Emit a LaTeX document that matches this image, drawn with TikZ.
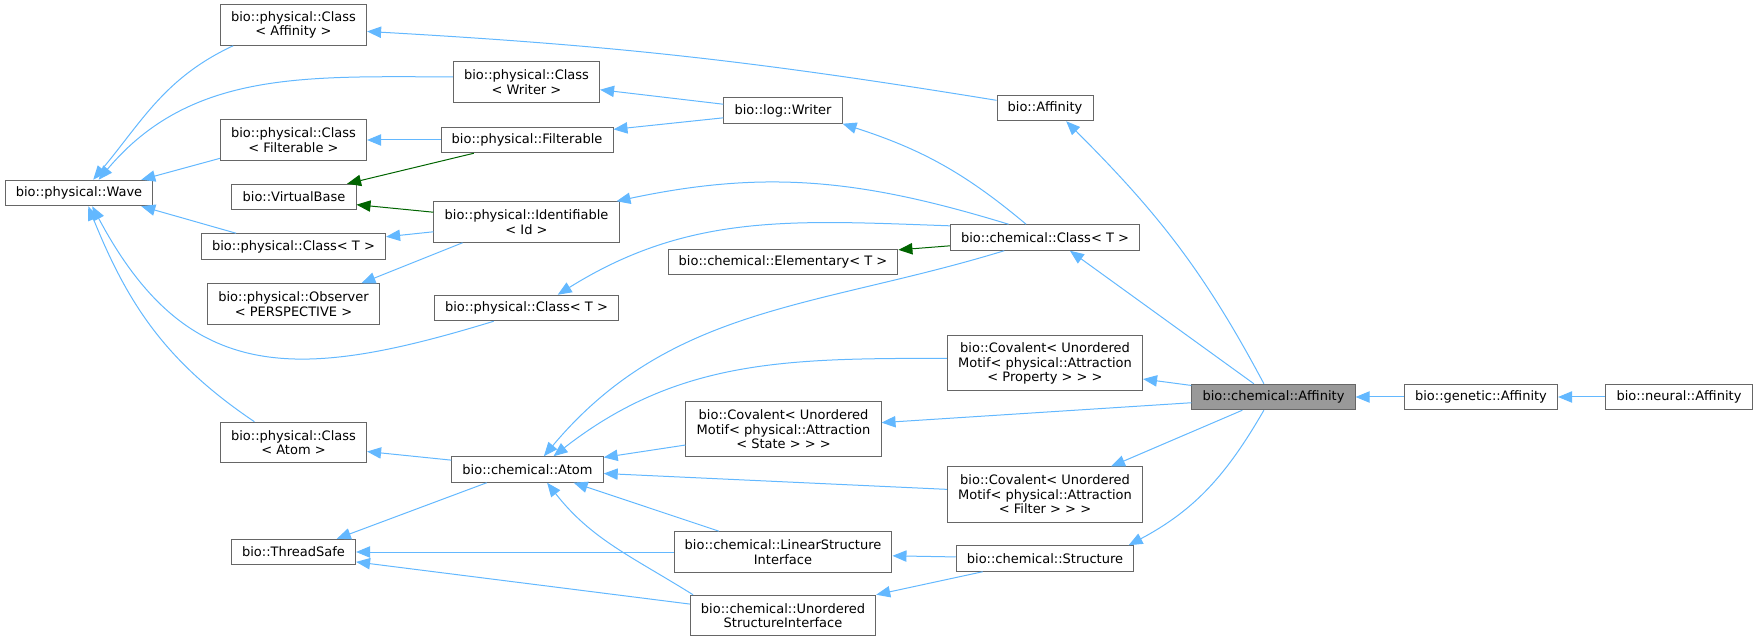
\documentclass[tikz,border=0pt]{standalone}
\usepackage{fontspec}
\setmainfont{DejaVu Sans}
\usepackage{tikz}
\usetikzlibrary{arrows.meta}
\definecolor{edgeblue}{HTML}{63B8FF}
\definecolor{edgegreen}{HTML}{006400}
\definecolor{boxgray}{HTML}{666666}
\definecolor{hlgray}{HTML}{999999}
\newcommand{\dxfont}{\fontsize{9.75pt}{10.9pt}\selectfont}
\tikzstyle{one} = [draw=boxgray, fill=white, line width=0.75pt, inner xsep=8pt, inner ysep=2pt, minimum height=19.1pt, align=center, font=\dxfont]
\tikzstyle{two} = [one, minimum height=30.4pt]
\tikzstyle{three} = [one, minimum height=41.25pt]
\tikzstyle{arrow} = [line width=0.75pt, color=edgeblue, <-, >={Triangle[length=10.5pt,width=8.5pt]}]
\tikzstyle{varrow} = [arrow, color=edgegreen]

\begin{document}
\begin{tikzpicture}[x=0.75pt, y=0.75pt]
    \useasboundingbox (0,0) rectangle (1757,-641);
    % Nodes
    \node[two] (ClsAffinity) at (293.5,-25) {bio::physical::Class\\< Affinity >};
    \node[two] (ClsWriter) at (526.5,-82) {bio::physical::Class\\< Writer >};
    \node[two] (ClsFilterable) at (293.5,-140) {bio::physical::Class\\< Filterable >};
    \node[one] (Filterable) at (527,-140) {bio::physical::Filterable};
    \node[one] (LogWriter) at (783,-110.5) {bio::log::Writer};
    \node[one] (Affinity) at (1045,-108) {bio::Affinity};
    \node[one] (Wave) at (79,-193) {bio::physical::Wave};
    \node[one] (VirtualBase) at (294,-197) {bio::VirtualBase};
    \node[two] (Identifiable) at (526.5,-222) {bio::physical::Identifiable\\< Id >};
    \node[one] (PhysClsT) at (293.5,-246.5) {bio::physical::Class< T >};
    \node[one] (ChemClsT) at (1045,-237.5) {bio::chemical::Class< T >};
    \node[one] (Elementary) at (783,-262) {bio::chemical::Elementary< T >};
    \node[two] (Observer) at (293.5,-304) {bio::physical::Observer\\< PERSPECTIVE >};
    \node[one] (PhysClsTb) at (526.5,-308) {bio::physical::Class< T >};
    \node[three] (CovProperty) at (1045,-363.5) {bio::Covalent< Unordered\\Motif< physical::Attraction\\< Property > > >};
    \node[one, fill=hlgray] (ChemAffinity) at (1273.5,-397) {bio::chemical::Affinity};
    \node[one] (GeneticAffinity) at (1481,-397) {bio::genetic::Affinity};
    \node[one] (NeuralAffinity) at (1679,-397) {bio::neural::Affinity};
    \node[three] (CovState) at (783.5,-429.5) {bio::Covalent< Unordered\\Motif< physical::Attraction\\< State > > >};
    \node[two] (ClsAtom) at (293.5,-442.5) {bio::physical::Class\\< Atom >};
    \node[one] (Atom) at (527.5,-469.5) {bio::chemical::Atom};
    \node[three] (CovFilter) at (1045,-494.5) {bio::Covalent< Unordered\\Motif< physical::Attraction\\< Filter > > >};
    \node[one] (ThreadSafe) at (293.5,-552) {bio::ThreadSafe};
    \node[two] (LinearSI) at (783,-552) {bio::chemical::LinearStructure\\Interface};
    \node[one] (Structure) at (1045,-558.5) {bio::chemical::Structure};
    \node[two] (UnorderedSI) at (783,-615.5) {bio::chemical::Unordered\\StructureInterface};

    % Edges
    \draw[arrow] (Wave.43) to[out=50,in=205] (ClsAffinity.199);
    \draw[arrow] (Wave.34) to[out=50,in=180] (ClsWriter.176);
    \draw[arrow] (Wave.12) -- (ClsFilterable.194);
    \draw[arrow] (Wave.-12) -- (PhysClsT.167);
    \draw[arrow] (Wave.-45) to[out=-62,in=197,looseness=1.25] (PhysClsTb.202);
    \draw[arrow] (Wave.-55) to[out=-68,in=146] (ClsAtom.152);
    \draw[arrow] (ClsAffinity.-5) to[bend left=3] (Affinity.171);
    \draw[arrow] (ClsWriter.-6) -- (LogWriter.174);
    \draw[arrow] (ClsFilterable) -- (Filterable);
    \draw[arrow] (Filterable.7) -- (LogWriter.187);
    \draw[varrow] (VirtualBase.14) -- (Filterable.194);
    \draw[varrow] (VirtualBase.-7) -- (Identifiable.174);
    \draw[arrow] (PhysClsT.6) -- (Identifiable.186);
    \draw[arrow] (Observer.17) -- (Identifiable.198);
    \draw[arrow] (LogWriter.south east) to[out=-18,in=140] (ChemClsT.145);
    \draw[arrow] (Identifiable.13) to[out=12,in=163] (ChemClsT.160);
    \draw[varrow] (Elementary.6) -- (ChemClsT.185);
    \draw[arrow] (PhysClsTb.23) to[out=32,in=178] (ChemClsT.173);
    \draw[arrow] (Affinity.-32) to[out=-45,in=118] (ChemAffinity.126);
    \draw[arrow] (ChemClsT.-28) -- (ChemAffinity.146);
    \draw[arrow] (CovProperty.-9) -- (ChemAffinity.172);
    \draw[arrow] (CovState.4) -- (ChemAffinity.184);
    \draw[arrow] (CovFilter.23) -- (ChemAffinity.203);
    \draw[arrow] (Structure.9) to[out=28,in=240] (ChemAffinity.234);
    \draw[arrow] (ChemAffinity) -- (GeneticAffinity);
    \draw[arrow] (GeneticAffinity) -- (NeuralAffinity);
    \draw[arrow] (ClsAtom.-7) -- (Atom.173);
    \draw[arrow] (ThreadSafe.17) -- (Atom.198);
    \draw[arrow] (Atom.27) to[out=38,in=180] (CovProperty.177);
    \draw[arrow] (Atom.39) to[out=50,in=197] (ChemClsT.198);
    \draw[arrow] (Atom.9) -- (CovState.189);
    \draw[arrow] (Atom.-3) -- (CovFilter.177);
    \draw[arrow] (Atom.-16) -- (LinearSI.162);
    \draw[arrow] (Atom.-34) to[out=-52,in=148] (UnorderedSI.167);
    \draw[arrow] (ThreadSafe) -- (LinearSI);
    \draw[arrow] (ThreadSafe.-9) -- (UnorderedSI.173);
    \draw[arrow] (LinearSI.-2) -- (Structure.179);
    \draw[arrow] (UnorderedSI.north east) -- (Structure.192);
\end{tikzpicture}
\end{document}
